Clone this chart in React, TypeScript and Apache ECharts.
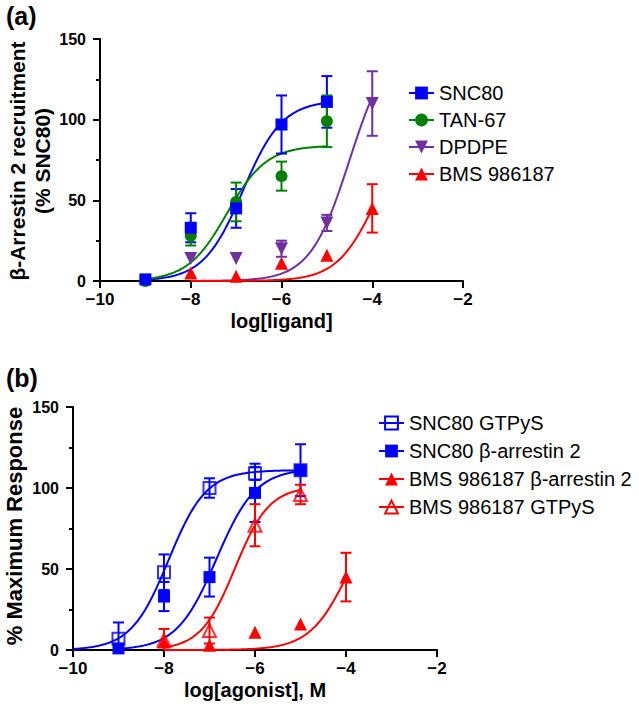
import React, { useEffect, useRef } from "react";
import * as echarts from "echarts";

// ---------- Panel (a) data ----------
const sncConc = [-9, -8, -7, -6, -5];
const sncMean = [1, 33, 45, 97, 111];
const sncSem = [1, 9, 12, 18, 16];

const tanConc = [-9, -8, -7, -6, -5];
const tanMean = [0, 28, 49, 65, 99];
const tanSem = [0, 6, 12, 9, 16];

const dpdpeConc = [-8, -7, -6, -5, -4];
const dpdpeMean = [14, 14, 20, 36, 110];
const dpdpeSem = [0, 0, 5, 5, 20];

const bmsConc = [-8, -7, -6, -5, -4];
const bmsArrMean = [5, 3, 11, 16, 45];
const bmsArrSem = [0, 0, 0, 0, 15];

// ---------- Panel (b) data ----------
const sncGtpConc = [-9, -8, -7, -6, -5];
const sncGtpMean = [7, 48, 100, 109, 111];
const sncGtpSem = [10, 11, 6, 4, 0];

const bmsGtpConc = [-8, -7, -6, -5];
const bmsGtpMean = [6, 12, 77, 96];
const bmsGtpSem = [7, 8, 13, 6];

// ---------- Fitted curve parameters (top, logEC50, Hill slope, x range) ----------
const fitNames = ["snc", "tan", "dpdpe", "bmsArr", "sncGtp", "bmsGtp"];
const fitTop = [112, 84, 150, 100, 111, 101];
const fitLogEC50 = [-6.85, -7.2, -4.5, -3.91, -7.9, -6.44];
const fitHill = [1, 1, 1, 1, 1.05, 1.15];
const fitFrom = [-9, -9, -8, -8, -10, -8];
const fitTo = [-5, -5, -4, -4, -5, -5];

const xTicks = [-10, -8, -6, -4, -2];
const yTicks = [0, 50, 100, 150];

const legendA = ["SNC80", "TAN-67", "DPDPE", "BMS 986187"];
const legendB = ["SNC80 GTPyS", "SNC80 β-arrestin 2", "BMS 986187 β-arrestin 2", "BMS 986187 GTPyS"];

const yTitleA1 = "β-Arrestin 2 recruitment";
const yTitleA2 = "(% SNC80)";
const yTitleB = "% Maximum Response";

const BLUE = "#0000FF";
const GREEN = "#008000";
const PURPLE = "#7030A0";
const RED = "#FF0000";
const FONT = "'Liberation Sans', Arial, Helvetica, sans-serif";

function curve(key: string): number[][] {
  const i = fitNames.indexOf(key);
  const pts: number[][] = [];
  const n = 120;
  for (let k = 0; k <= n; k++) {
    const x = fitFrom[i] + ((fitTo[i] - fitFrom[i]) * k) / n;
    const y = fitTop[i] / (1 + Math.pow(10, fitHill[i] * (fitLogEC50[i] - x)));
    pts.push([x, y]);
  }
  return pts;
}

function zip(xs: number[], ys: number[]) {
  return xs.map((x, i) => [x, ys[i]]);
}
function zip3(xs: number[], ys: number[], es: number[]) {
  return xs.map((x, i) => [x, ys[i], es[i]]).filter((d) => d[2] > 0);
}

function makeAxisX(gridIndex: number, name: string) {
  return {
    type: "value",
    gridIndex,
    min: -10,
    max: -2,
    interval: 2,
    name,
    nameLocation: "middle",
    nameGap: 30,
    nameTextStyle: { fontFamily: FONT, fontSize: 20, fontWeight: "bold", color: "#000" },
    axisLine: { show: true, onZero: false, lineStyle: { color: "#000", width: 2 } },
    axisTick: { show: true, length: 7, lineStyle: { color: "#000", width: 2 } },
    axisLabel: {
      margin: 10,
      fontFamily: FONT,
      fontSize: 17,
      fontWeight: "bold",
      color: "#000",
      formatter: (v: number) => (xTicks.includes(v) ? String(v).replace("-", "\u2212") : ""),
    },
    splitLine: { show: false },
  };
}

function makeAxisY(gridIndex: number) {
  return {
    type: "value",
    gridIndex,
    min: 0,
    max: 150,
    interval: 50,
    axisLine: { show: true, lineStyle: { color: "#000", width: 2 } },
    axisTick: { show: true, length: 7, lineStyle: { color: "#000", width: 2 } },
    minorTick: { show: true, splitNumber: 2, length: 4, lineStyle: { color: "#000", width: 2 } },
    axisLabel: {
      margin: 14,
      fontFamily: FONT,
      fontSize: 16,
      fontWeight: "bold",
      color: "#000",
      formatter: (v: number) => (yTicks.includes(v) ? String(v) : ""),
    },
    splitLine: { show: false },
    minorSplitLine: { show: false },
  };
}

function errSeries(name: string, grid: number, data: number[][], color: string) {
  return {
    name,
    type: "custom",
    xAxisIndex: grid,
    yAxisIndex: grid,
    z: 3,
    clip: true,
    silent: true,
    data,
    renderItem: (params: any, api: any) => {
      const x = api.value(0);
      const y = api.value(1);
      const e = api.value(2);
      const t = api.coord([x, y + e]);
      const b = api.coord([x, y - e]);
      const h = 5.5;
      const st = { stroke: color, lineWidth: 2 };
      return {
        type: "group",
        children: [
          { type: "line", shape: { x1: t[0], y1: t[1], x2: b[0], y2: b[1] }, style: st },
          { type: "line", shape: { x1: t[0] - h, y1: t[1], x2: t[0] + h, y2: t[1] }, style: st },
          { type: "line", shape: { x1: b[0] - h, y1: b[1], x2: b[0] + h, y2: b[1] }, style: st },
        ],
      };
    },
  };
}

function curveSeries(name: string, grid: number, key: string, color: string, symbol: string, rotate: number, open: boolean) {
  return {
    name,
    type: "line",
    xAxisIndex: grid,
    yAxisIndex: grid,
    z: 2,
    data: curve(key),
    showSymbol: false,
    symbol,
    symbolRotate: rotate,
    smooth: false,
    silent: true,
    lineStyle: { color, width: 2 },
    itemStyle: open ? { color: "transparent", borderColor: color, borderWidth: 2 } : { color },
  };
}

function pointSeries(name: string, grid: number, data: number[][], color: string, symbol: string, size: number, rotate: number, open: boolean) {
  return {
    name,
    type: "scatter",
    xAxisIndex: grid,
    yAxisIndex: grid,
    z: 4,
    data,
    symbol,
    symbolSize: size,
    symbolRotate: rotate,
    silent: true,
    itemStyle: open ? { color: "transparent", borderColor: color, borderWidth: 2 } : { color, opacity: 1 },
  };
}

function vText(text: string, x: number, y: number, size: number) {
  return {
    type: "text",
    x,
    y,
    rotation: Math.PI / 2,
    style: { text, font: `bold ${size}px ${FONT}`, fill: "#000", align: "center", verticalAlign: "middle" },
  };
}

export default function App() {
  const ref = useRef<HTMLDivElement>(null);
  useEffect(() => {
    if (!ref.current) return;
    const chart = echarts.init(ref.current, null, { renderer: "svg" });
    const legendText = { fontFamily: FONT, fontSize: 20, color: "#000", lineHeight: 20 };
    chart.setOption({
      animation: false,
      backgroundColor: "#fff",
      textStyle: { fontFamily: FONT },
      grid: [
        { left: 100, top: 39, width: 363, height: 242, outerBoundsMode: "none", containLabel: false },
        { left: 73, top: 407, width: 364, height: 243, outerBoundsMode: "none", containLabel: false },
      ],
      xAxis: [makeAxisX(0, "log[ligand]"), makeAxisX(1, "log[agonist], M")],
      yAxis: [makeAxisY(0), makeAxisY(1)],
      legend: [
        {
          left: 403,
          top: 78,
          orient: "vertical",
          data: legendA,
          itemWidth: 25,
          itemHeight: 16,
          itemGap: 7,
          textStyle: legendText,
          selectedMode: false,
        },
        {
          left: 373,
          top: 408,
          orient: "vertical",
          data: legendB,
          itemWidth: 25,
          itemHeight: 16,
          itemGap: 8,
          textStyle: legendText,
          selectedMode: false,
        },
      ],
      graphic: [
        { type: "text", left: 6, top: 3, style: { text: "(a)", font: `bold 25px ${FONT}`, fill: "#000" } },
        { type: "text", left: 6, top: 365, style: { text: "(b)", font: `bold 25px ${FONT}`, fill: "#000" } },
        vText(yTitleA1, 17, 161, 21),
        vText(yTitleA2, 42, 161, 21),
        vText(yTitleB, 14, 526, 22),
      ],
      series: [
        // panel (a)
        curveSeries("SNC80", 0, "snc", BLUE, "rect", 0, false),
        curveSeries("TAN-67", 0, "tan", GREEN, "circle", 0, false),
        curveSeries("DPDPE", 0, "dpdpe", PURPLE, "triangle", 180, false),
        curveSeries("BMS 986187", 0, "bmsArr", RED, "triangle", 0, false),
        errSeries("SNC80", 0, zip3(sncConc, sncMean, sncSem), BLUE),
        errSeries("TAN-67", 0, zip3(tanConc, tanMean, tanSem), GREEN),
        errSeries("DPDPE", 0, zip3(dpdpeConc, dpdpeMean, dpdpeSem), PURPLE),
        errSeries("BMS 986187", 0, zip3(bmsConc, bmsArrMean, bmsArrSem), RED),
        pointSeries("TAN-67", 0, zip(tanConc, tanMean), GREEN, "circle", 12, 0, false),
        pointSeries("DPDPE", 0, zip(dpdpeConc, dpdpeMean), PURPLE, "triangle", 13, 180, false),
        pointSeries("BMS 986187", 0, zip(bmsConc, bmsArrMean), RED, "triangle", 13, 0, false),
        pointSeries("SNC80", 0, zip(sncConc, sncMean), BLUE, "rect", 12, 0, false),
        // panel (b)
        curveSeries("SNC80 GTPyS", 1, "sncGtp", BLUE, "rect", 0, true),
        curveSeries("SNC80 β-arrestin 2", 1, "snc", BLUE, "rect", 0, false),
        curveSeries("BMS 986187 β-arrestin 2", 1, "bmsArr", RED, "triangle", 0, false),
        curveSeries("BMS 986187 GTPyS", 1, "bmsGtp", RED, "triangle", 0, true),
        errSeries("SNC80 GTPyS", 1, zip3(sncGtpConc, sncGtpMean, sncGtpSem), BLUE),
        errSeries("SNC80 β-arrestin 2", 1, zip3(sncConc, sncMean, sncSem), BLUE),
        errSeries("BMS 986187 β-arrestin 2", 1, zip3(bmsConc, bmsArrMean, bmsArrSem), RED),
        errSeries("BMS 986187 GTPyS", 1, zip3(bmsGtpConc, bmsGtpMean, bmsGtpSem), RED),
        pointSeries("BMS 986187 β-arrestin 2", 1, zip(bmsConc, bmsArrMean), RED, "triangle", 13, 0, false),
        pointSeries("SNC80 β-arrestin 2", 1, zip(sncConc, sncMean), BLUE, "rect", 12, 0, false),
        pointSeries("SNC80 GTPyS", 1, zip(sncGtpConc, sncGtpMean), BLUE, "rect", 12, 0, true),
        pointSeries("BMS 986187 GTPyS", 1, zip(bmsGtpConc, bmsGtpMean), RED, "triangle", 13, 0, true),
      ],
    });
    return () => chart.dispose();
  }, []);
  return (
    <div
      ref={ref}
      style={{ position: "fixed", left: 0, top: 0, width: 639, height: 708, background: "#fff" }}
    />
  );
}
